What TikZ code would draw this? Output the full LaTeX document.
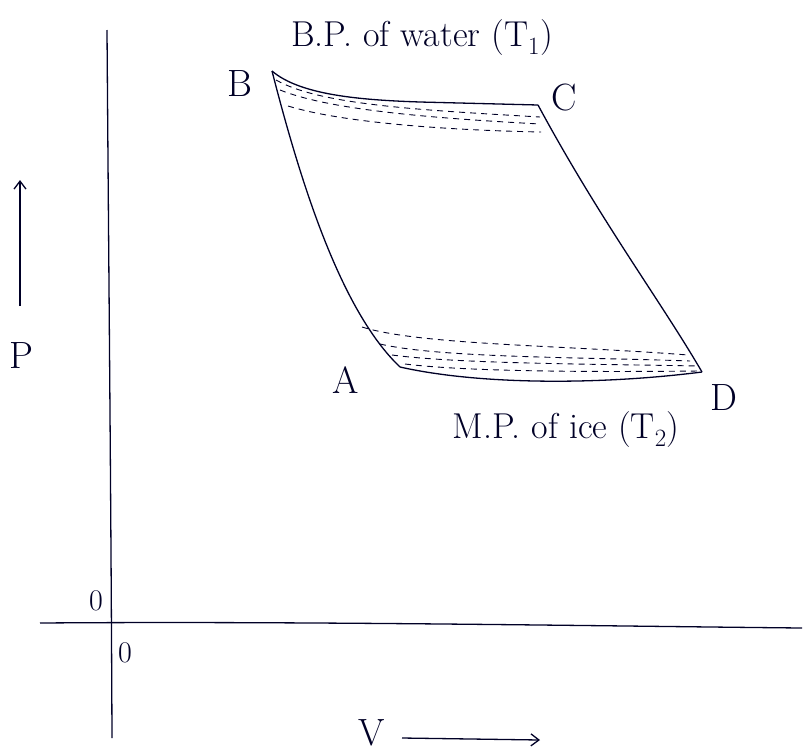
\documentclass[tikz,border=0pt]{standalone}
\usetikzlibrary{arrows.meta}
\begin{document}
\begin{tikzpicture}[x=1pt,y=-1pt,
  ink/.style={line width=1.3pt,color=black!85!blue},
  dsh/.style={line width=0.9pt,color=black!85!blue,dash pattern=on 6pt off 5pt},
  lbl/.style={font=\fontsize{38}{40}\selectfont,text=black!85!blue,inner sep=0pt},
  zro/.style={font=\fontsize{30}{32}\selectfont,text=black!85!blue,inner sep=0pt},
  txt/.style={font=\fontsize{36}{38}\selectfont,text=black!85!blue,inner sep=0pt}]
\useasboundingbox (0,0) rectangle (805,753);
% axes
\coordinate (vt) at (107,30);
\coordinate (vb) at (112,738);
\coordinate (hl) at (40,623);
\coordinate (hr) at (802,628);
\draw[ink] (vt) .. controls (109,300) and (111,500) .. (vb);
\draw[ink] (hl) .. controls (300,621) and (600,626) .. (hr);
\node[zro] (o1) at (96,601) {0};
\node[zro] (o2) at (125,653) {0};
% P arrow
\coordinate (pb) at (20,306);
\coordinate (pt) at (20,180);
\draw[ink,-{Straight Barb[length=8pt,width=12pt]}] (pb) -- (pt);
\node[lbl] (P) at (21,356) {P};
% V arrow
\node[lbl] (V) at (372,733) {V};
\coordinate (va) at (402,738);
\coordinate (vz) at (540,740);
\draw[ink,-{Straight Barb[length=8pt,width=12pt]}] (va) -- (vz);
% corners
\coordinate (B) at (272,71);
\coordinate (C) at (538,105);
\coordinate (D) at (702,372);
\coordinate (A) at (400,367);
% cycle
\draw[ink] (B) .. controls (300,95) and (360,100) .. (420,102) -- (C);
\draw[ink] (C) .. controls (600,220) and (660,300) .. (D);
\draw[ink] (D) .. controls (600,385) and (480,385) .. (A);
\draw[ink] (B) .. controls (300,180) and (340,310) .. (A);
% dashed near top
\draw[dsh] (276,80) .. controls (320,105) and (420,110) .. (540,117);
\draw[dsh] (280,90) .. controls (330,110) and (430,118) .. (540,124);
\draw[dsh] (288,106) .. controls (340,122) and (440,130) .. (541,132);
% dashed near bottom
\draw[dsh] (362,327) .. controls (420,345) and (560,345) .. (688,355);
\draw[dsh] (380,344) .. controls (440,358) and (580,357) .. (690,361);
\draw[dsh] (392,355) .. controls (460,364) and (600,364) .. (698,366);
\draw[dsh] (405,364) .. controls (470,372) and (600,372) .. (699,371);
% labels
\node[lbl] (lB) at (240,84) {B};
\node[lbl] (lC) at (564,98) {C};
\node[lbl] (lA) at (346,380) {A};
\node[lbl] (lD) at (724,398) {D};
\node[txt] (tBP) at (422,38) {B.P. of water (T$_1$)};
\node[txt] (tMP) at (566,430) {M.P. of ice (T$_2$)};
\end{tikzpicture}
\end{document}
